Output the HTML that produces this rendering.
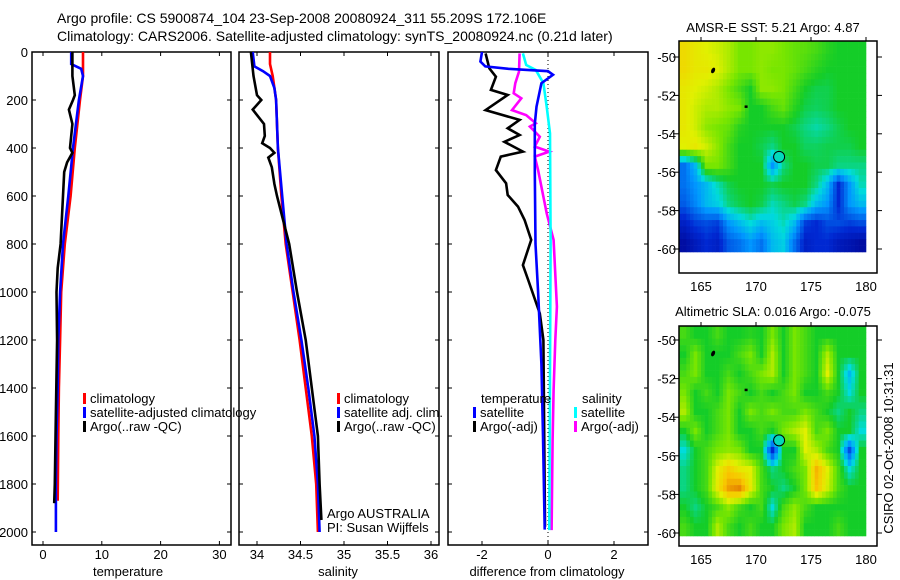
<!DOCTYPE html>
<html><head><meta charset="utf-8"><style>
html,body{margin:0;padding:0;background:#fff}
svg{display:block;font-family:"Liberation Sans",Arial,sans-serif}
</style></head><body>
<svg id="fig" width="900" height="580" viewBox="0 0 900 580" xmlns="http://www.w3.org/2000/svg">
<text x="57" y="23" font-size="14">Argo profile: CS 5900874_104 23-Sep-2008 20080924_311 55.209S 172.106E</text>
<text x="57" y="41" font-size="14">Climatology: CARS2006. Satellite-adjusted climatology: synTS_20080924.nc (0.21d later)</text>
<g id="g"></g>
</svg>
<script>
// ---------- data ----------
const depthTicks=[0,200,400,600,800,1000,1200,1400,1600,1800,2000];
const tempTicks=[0,10,20,30];
const salTicks=[34,34.5,35,35.5,36];
const salTickLabels=["34","34.5","35","35.5","36"];
const diffTicks=[-2,0,2];
const lonTicks=[165,170,175,180];
const latTicks=[-50,-52,-54,-56,-58,-60];

const tClimDepth=[0,100,200,400,600,800,1000,1200,1400,1600,1870];
const tClimVal=[6.8,6.8,6.3,5.4,4.7,3.7,3.1,2.9,2.7,2.6,2.5];
const tSatDepth=[0,50,70,100,200,400,600,800,1000,1200,1400,1600,1800,2000];
const tSatVal=[4.8,4.8,6.5,6.8,6.1,5.1,4.3,3.4,2.9,2.6,2.5,2.3,2.2,2.2];
const tArgoDepth=[0,100,180,200,240,300,400,420,460,500,600,800,900,1000,1200,1500,1800,1880];
const tArgoVal=[5.0,5.0,5.4,5.1,4.4,5.0,4.6,5.0,4.1,3.6,3.4,3.0,2.5,2.3,2.4,2.2,2.0,1.9];

const sClimDepth=[0,50,100,200,400,600,800,1000,1200,1400,1600,1800,2000];
const sClimVal=[34.15,34.15,34.18,34.22,34.24,34.28,34.33,34.41,34.49,34.56,34.63,34.68,34.7];
const sSatDepth=[0,60,80,100,150,200,400,600,800,1000,1200,1400,1600,1800,2000];
const sSatVal=[33.95,33.97,34.07,34.15,34.2,34.22,34.24,34.29,34.34,34.42,34.51,34.59,34.66,34.7,34.72];
const sArgoDepth=[0,100,180,200,240,300,350,380,400,420,440,480,550,600,700,800,1000,1200,1400,1600,1800,1950];
const sArgoVal=[33.93,33.96,34.0,34.05,33.95,34.08,34.09,34.06,34.15,34.2,34.13,34.17,34.2,34.23,34.3,34.37,34.46,34.56,34.63,34.7,34.72,34.74];

const dTSatDepth=[0,40,60,70,80,95,130,228,300,500,800,1000,1300,1600,1990];
const dTSatVal=[-2.0,-2.05,-1.9,-1.2,0.0,0.15,-0.2,-0.35,-0.4,-0.4,-0.38,-0.3,-0.2,-0.15,-0.1];
const dTArgoDepth=[6,68,103,158,179,242,283,318,346,374,415,436,492,547,596,644,700,783,888,950,1089,1200,1978];
const dTArgoVal=[-1.89,-1.78,-1.58,-1.73,-1.22,-1.89,-0.86,-1.22,-0.86,-1.32,-0.76,-1.43,-1.58,-1.27,-1.22,-0.91,-0.71,-0.51,-0.76,-0.6,-0.25,-0.14,-0.09];
const dSSatDepth=[6,54,75,130,228,339,783,1992];
const dSSatVal=[-0.76,-0.66,-0.37,-0.14,-0.04,0.06,0.08,0.04];
const dSArgoDepth=[6,82,130,172,193,242,263,297,311,353,394,415,436,492,603,672,783,1061,1200,1408,1617,1992];
const dSArgoVal=[-0.86,-0.88,-0.99,-1.04,-0.81,-1.09,-0.66,-0.37,-0.55,-0.25,-0.4,0.04,-0.4,-0.3,-0.14,-0.04,0.17,0.27,0.22,0.17,0.14,0.11];

// map grids: rows from north (-49) to south (-60), columns lon 163..180
const sstGrid=[
[0.75,0.72,0.7,0.68,0.65,0.6,0.6,0.62,0.62,0.6,0.58,0.57,0.55,0.52,0.5,0.5,0.5],
[0.75,0.72,0.72,0.7,0.65,0.6,0.6,0.62,0.6,0.6,0.58,0.55,0.52,0.5,0.5,0.5,0.5],
[0.72,0.7,0.68,0.65,0.6,0.55,0.5,0.62,0.62,0.6,0.55,0.5,0.48,0.48,0.5,0.5,0.5],
[0.72,0.68,0.65,0.65,0.62,0.6,0.5,0.5,0.55,0.58,0.52,0.48,0.47,0.48,0.5,0.5,0.5],
[0.72,0.68,0.62,0.6,0.58,0.52,0.5,0.5,0.5,0.5,0.48,0.45,0.43,0.45,0.48,0.5,0.5],
[0.7,0.72,0.68,0.62,0.55,0.5,0.5,0.48,0.45,0.5,0.5,0.47,0.47,0.48,0.48,0.48,0.5],
[0.25,0.35,0.6,0.6,0.55,0.5,0.5,0.5,0.3,0.45,0.5,0.5,0.48,0.48,0.45,0.45,0.45],
[0.25,0.3,0.35,0.42,0.48,0.5,0.5,0.5,0.48,0.5,0.5,0.5,0.45,0.35,0.15,0.3,0.42],
[0.22,0.28,0.35,0.38,0.45,0.48,0.5,0.48,0.42,0.45,0.48,0.45,0.35,0.3,0.15,0.3,0.35],
[0.12,0.18,0.2,0.18,0.3,0.35,0.4,0.35,0.38,0.42,0.35,0.18,0.15,0.2,0.2,0.18,0.2],
[0.05,0.1,0.15,0.12,0.22,0.25,0.3,0.25,0.35,0.38,0.25,0.12,0.15,0.15,0.1,0.08,0.05]];
const slaGrid=[
[0.55,0.5,0.5,0.55,0.5,0.5,0.52,0.5,0.6,0.5,0.6,0.55,0.5,0.5,0.5,0.5,0.5],
[0.5,0.6,0.5,0.5,0.5,0.55,0.6,0.5,0.65,0.5,0.6,0.55,0.5,0.65,0.5,0.5,0.5],
[0.55,0.6,0.5,0.5,0.55,0.5,0.55,0.6,0.65,0.5,0.6,0.55,0.5,0.7,0.5,0.35,0.5],
[0.6,0.5,0.55,0.5,0.6,0.55,0.5,0.55,0.5,0.55,0.6,0.5,0.5,0.55,0.5,0.4,0.5],
[0.65,0.5,0.5,0.55,0.6,0.5,0.6,0.55,0.6,0.55,0.55,0.6,0.55,0.5,0.45,0.5,0.45],
[0.5,0.6,0.5,0.55,0.6,0.5,0.5,0.55,0.5,0.6,0.65,0.7,0.55,0.6,0.5,0.5,0.4],
[0.4,0.5,0.55,0.6,0.62,0.6,0.5,0.5,0.15,0.5,0.5,0.7,0.65,0.55,0.5,0.2,0.5],
[0.45,0.5,0.55,0.7,0.78,0.72,0.7,0.55,0.45,0.5,0.55,0.6,0.82,0.7,0.55,0.4,0.5],
[0.45,0.5,0.55,0.72,0.85,0.88,0.72,0.55,0.5,0.45,0.5,0.6,0.8,0.68,0.55,0.5,0.5],
[0.5,0.45,0.5,0.55,0.62,0.55,0.5,0.55,0.4,0.55,0.62,0.55,0.5,0.5,0.5,0.5,0.5],
[0.55,0.5,0.5,0.65,0.55,0.5,0.55,0.5,0.5,0.6,0.65,0.5,0.5,0.5,0.55,0.5,0.5]];
const gridLon0=163, gridLat0=-49;
const floatLon=172.1, floatLat=-55.2;

// ---------- drawing ----------
const NS="http://www.w3.org/2000/svg";
const G=document.getElementById('g');
function mk(tag,attrs,parent){const e=document.createElementNS(NS,tag);for(const k in attrs)e.setAttribute(k,attrs[k]);(parent||G).appendChild(e);return e;}
function txt(x,y,s,opts,parent){const t=mk('text',Object.assign({x:x,y:y,'font-size':13},opts||{}),parent);t.textContent=s;return t;}

const depY=d=>52+0.24*d;
const tX=v=>43+5.88*v;
const sX=v=>257+87*(v-34);
const dX=v=>548+33*v;

function panel(name,x0,x1,xTicks,xLabels,xFn,xTitle,xTitleX){
  const g=mk('g',{});
  
  
  const r=mk('rect',{x:x0,y:52,width:x1-x0,height:493,fill:'none',stroke:'#000','stroke-width':1.5},g);
  
  
  depthTicks.forEach(d=>{
    const y=depY(d);
    mk('line',{x1:x0,y1:y,x2:x0+4,y2:y,stroke:'#000'},g);
    mk('line',{x1:x1-4,y1:y,x2:x1,y2:y,stroke:'#000'},g);
  });
  xTicks.forEach((v,i)=>{
    const x=xFn(v);
    mk('line',{x1:x,y1:52,x2:x,y2:56,stroke:'#000'},g);
    mk('line',{x1:x,y1:541,x2:x,y2:545,stroke:'#000'},g);
    const t=txt(x,559,xLabels[i],{'text-anchor':'middle'},g);
    
    
  });
  const tt=txt(xTitleX,576,xTitle,{'text-anchor':'middle'},g);
  
  
  return g;
}
panel('temperature',32,231,tempTicks,tempTicks.map(String),tX,'temperature',128);
panel('salinity',239,439,salTicks,salTickLabels,sX,'salinity',338);
panel('difference',448,648,diffTicks,diffTicks.map(String),dX,'difference from climatology',547);
depthTicks.forEach(d=>{
  const t=txt(28,depY(d)+5,String(d),{'text-anchor':'end'});
  
  
});
const zl=mk('line',{x1:dX(0),y1:52,x2:dX(0),y2:545,stroke:'#000','stroke-dasharray':'1,3'});



function series(name,depths,vals,xFn,color){
  const pts=depths.map((d,i)=>xFn(vals[i]).toFixed(1)+','+depY(d).toFixed(1)).join(' ');
  const p=mk('polyline',{points:pts,fill:'none',stroke:color,'stroke-width':2.6,'stroke-linejoin':'miter'});
  
  
}
series('temp-climatology-line',tClimDepth,tClimVal,tX,'#ff0000');
series('temp-satellite-adjusted-line',tSatDepth,tSatVal,tX,'#0000ff');
series('temp-argo-line',tArgoDepth,tArgoVal,tX,'#000000');
series('sal-climatology-line',sClimDepth,sClimVal,sX,'#ff0000');
series('sal-satellite-adjusted-line',sSatDepth,sSatVal,sX,'#0000ff');
series('sal-argo-line',sArgoDepth,sArgoVal,sX,'#000000');
series('diff-sal-argo-line',dSArgoDepth,dSArgoVal,dX,'#ff00ff');
series('diff-sal-satellite-line',dSSatDepth,dSSatVal,dX,'#00ffff');
series('diff-temp-argo-line',dTArgoDepth,dTArgoVal,dX,'#000000');
series('diff-temp-satellite-line',dTSatDepth,dTSatVal,dX,'#0000ff');

function legend(x,y,color,label){
  const m=mk('rect',{x:x,y:y-10,width:3,height:11,fill:color});
  
  
  const t=txt(x+7,y,label);
  
  
}
legend(83,403,'#ff0000','climatology');
legend(83,417,'#0000ff','satellite-adjusted climatology');
legend(83,431,'#000000','Argo(..raw -QC)');
legend(337,403,'#ff0000','climatology');
legend(337,417,'#0000ff','satellite adj. clim.');
legend(337,431,'#000000','Argo(..raw -QC)');
let lt=txt(481,403,'temperature');


lt=txt(582,403,'salinity');


legend(473,417,'#0000ff','satellite');
legend(473,431,'#000000','Argo(-adj)');
legend(574,417,'#00ffff','satellite');
legend(574,431,'#ff00ff','Argo(-adj)');
let at=txt(327,518,'Argo AUSTRALIA');


at=txt(327,532,'PI: Susan Wijffels');



// ---------- maps ----------
const stops=[[0,[0,0,140]],[0.15,[0,40,210]],[0.3,[0,150,255]],[0.4,[0,220,220]],[0.5,[20,205,40]],[0.6,[120,230,0]],[0.7,[225,240,0]],[0.8,[250,195,0]],[0.9,[225,120,0]],[1,[160,40,0]]];
function cmap(v){
  v=Math.max(0,Math.min(1,v));
  for(let i=1;i<stops.length;i++){if(v<=stops[i][0]){const a=stops[i-1],b=stops[i];const f=(v-a[0])/(b[0]-a[0]);
    const c=a[1].map((x,k)=>Math.round(x+(b[1][k]-x)*f));return 'rgb('+c.join(',')+')';}}
  return 'rgb(160,40,0)';
}
function sample(grid,r,c){ // bilinear in grid index space
  const R=grid.length-1,C=grid[0].length-1;
  r=Math.max(0,Math.min(R,r));c=Math.max(0,Math.min(C,c));
  const r0=Math.floor(r),c0=Math.floor(c),r1=Math.min(R,r0+1),c1=Math.min(C,c0+1);
  const fr=r-r0,fc=c-c0;
  return grid[r0][c0]*(1-fr)*(1-fc)+grid[r0][c1]*(1-fr)*fc+grid[r1][c0]*fr*(1-fc)+grid[r1][c1]*fr*fc;
}
function mapPanel(name,grid,frameTop,frameBot,lat50Y,lat60Y,dataBot,title,titleY){
  const lonX=l=>701+(l-165)*11;
  const latY=l=>lat50Y+(-50-l)*(lat60Y-lat50Y)/10;
  const g=mk('g',{});
  
  
  const rowsN=grid.length, colsN=grid[0].length;
  const sub=3;
  const cellH=(dataBot-frameTop)/(rowsN*sub);
  const cellW=11/sub;
  for(let i=0;i<rowsN*sub;i++){
    for(let j=0;j<colsN*sub;j++){
      const v=sample(grid,(i+0.5)/sub-0.5,(j+0.5)/sub-0.5);
      const c=mk('rect',{x:(lonX(gridLon0)+j*cellW).toFixed(2),y:(frameTop+i*cellH).toFixed(2),width:(cellW+0.3).toFixed(2),height:(cellH+0.3).toFixed(2),fill:cmap(v)},g);
      
      
    }
  }
  mk('ellipse',{cx:lonX(166.1),cy:latY(-50.7),rx:1.8,ry:3,fill:'#000',transform:'rotate(25 '+lonX(166.1)+' '+latY(-50.7)+')'},g);
  mk('rect',{x:lonX(169.1)-1.5,y:latY(-52.6)-1.5,width:3,height:2.5,fill:'#000'},g);
  const fv=sample(grid,(-49-floatLat)-0.5,(floatLon-gridLon0)-0.5);
  const fc=mk('circle',{cx:lonX(floatLon),cy:latY(floatLat),r:5.5,fill:cmap(fv),stroke:'#000','stroke-width':1},g);
  
  
  const fr=mk('rect',{x:679,y:frameTop,width:198,height:frameBot-frameTop,fill:'none',stroke:'#000','stroke-width':1.5},g);
  
  
  latTicks.forEach(l=>{
    const y=latY(l);
    mk('line',{x1:673,y1:y,x2:679,y2:y,stroke:'#000'},g);
    mk('line',{x1:877,y1:y,x2:882,y2:y,stroke:'#000'},g);
    const t=txt(676,y+5,String(l),{'text-anchor':'end'},g);
    
    
  });
  lonTicks.forEach(l=>{
    const x=lonX(l);
    mk('line',{x1:x,y1:frameTop-4,x2:x,y2:frameTop,stroke:'#000'},g);
    const t=txt(x,frameBot+18,String(l),{'text-anchor':'middle'},g);
    
    
  });
  const tt=txt(773,titleY,title,{'text-anchor':'middle'},g);
  
  
}
mapPanel('sst',sstGrid,41,273,57,249,252,'AMSR-E SST: 5.21 Argo: 4.87',32);
mapPanel('sla',slaGrid,326,546,340,533,536,'Altimetric SLA: 0.016 Argo: -0.075',316);
const st=txt(0,0,'CSIRO 02-Oct-2008 10:31:31',{'text-anchor':'middle',transform:'translate(893,448) rotate(-90)'});


</script>
</body></html>
